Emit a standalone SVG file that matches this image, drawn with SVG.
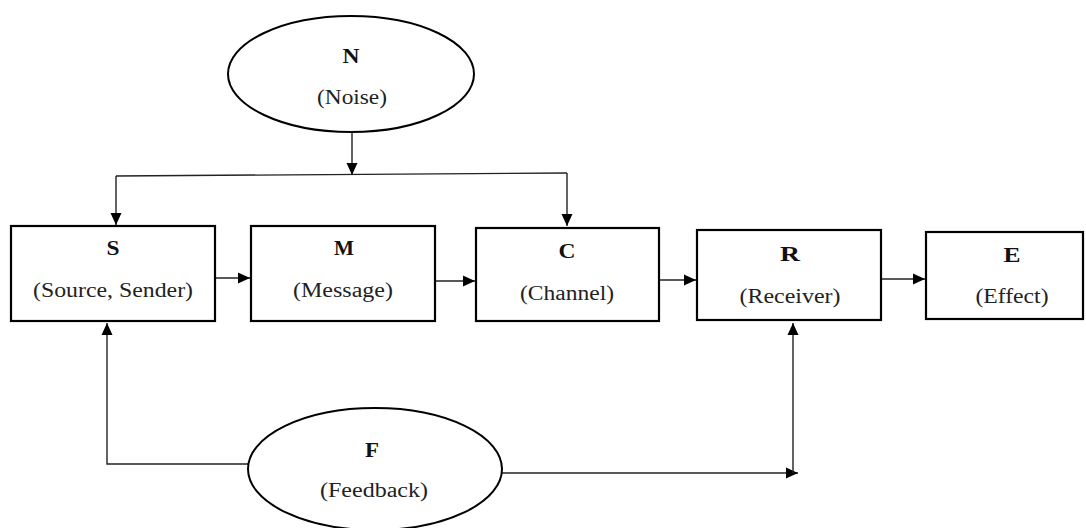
<svg xmlns="http://www.w3.org/2000/svg" width="1086" height="528" viewBox="0 0 1086 528">
  <style>
    .box { fill: #fff; stroke: #000; stroke-width: 2.2; }
    .oval { fill: #fff; stroke: #000; stroke-width: 2; }
    .wire { fill: none; stroke: #222; stroke-width: 1.4; }
    text { font-family: 'Liberation Serif', 'DejaVu Serif', serif; text-anchor: middle; }
    .key { font-weight: bold; font-size: 20px; fill: #111; }
    .sub { font-size: 20px; fill: #222; }
  </style>
  <defs>
    <marker id="head" viewBox="0 0 12 12" refX="12" refY="6" markerWidth="12" markerHeight="12" markerUnits="userSpaceOnUse" orient="auto">
      <path d="M0,0.5 L12,6 L0,11.5 Z" fill="#000"/>
    </marker>
  </defs>
  <rect width="1086" height="528" fill="#fff"/>

  <!-- connectors -->
  <g id="connectors">
    <line class="wire" x1="352" y1="132" x2="352" y2="175" marker-end="url(#head)"/>
    <line class="wire" x1="116" y1="176" x2="567" y2="173"/>
    <line class="wire" x1="116" y1="176" x2="116" y2="225" marker-end="url(#head)"/>
    <line class="wire" x1="567" y1="173" x2="567" y2="226" marker-end="url(#head)"/>
    <line class="wire" x1="215" y1="278" x2="250" y2="278" marker-end="url(#head)"/>
    <line class="wire" x1="435" y1="281" x2="475" y2="281" marker-end="url(#head)"/>
    <line class="wire" x1="659" y1="280" x2="696" y2="280" marker-end="url(#head)"/>
    <line class="wire" x1="881" y1="279" x2="925" y2="279" marker-end="url(#head)"/>
    <polyline class="wire" points="248,464 107,464 107,323" marker-end="url(#head)"/>
    <line class="wire" x1="502" y1="473" x2="798" y2="473" marker-end="url(#head)"/>
    <line class="wire" x1="793" y1="473" x2="793" y2="323" marker-end="url(#head)"/>
  </g>

  <!-- noise source -->
  <g id="noise">
    <ellipse class="oval" cx="351" cy="74" rx="123" ry="58"/>
    <text class="key" x="351" y="63" textLength="17" lengthAdjust="spacingAndGlyphs">N</text>
    <text class="sub" x="352" y="104" textLength="70" lengthAdjust="spacingAndGlyphs">(Noise)</text>
  </g>

  <g id="source">
    <rect class="box" x="11" y="226" width="204" height="95"/>
    <text class="key" x="113" y="255" textLength="13" lengthAdjust="spacingAndGlyphs">S</text>
    <text class="sub" x="113" y="297" textLength="160" lengthAdjust="spacingAndGlyphs">(Source, Sender)</text>
  </g>

  <g id="message">
    <rect class="box" x="251" y="226" width="184" height="95"/>
    <text class="key" x="344" y="255" textLength="20" lengthAdjust="spacingAndGlyphs">M</text>
    <text class="sub" x="343" y="297" textLength="100" lengthAdjust="spacingAndGlyphs">(Message)</text>
  </g>

  <g id="channel">
    <rect class="box" x="476" y="228" width="183" height="93"/>
    <text class="key" x="567" y="258" textLength="17" lengthAdjust="spacingAndGlyphs">C</text>
    <text class="sub" x="567" y="300" textLength="94" lengthAdjust="spacingAndGlyphs">(Channel)</text>
  </g>

  <g id="receiver">
    <rect class="box" x="697" y="230" width="184" height="90"/>
    <text class="key" x="790" y="261" textLength="20" lengthAdjust="spacingAndGlyphs">R</text>
    <text class="sub" x="790" y="303" textLength="101" lengthAdjust="spacingAndGlyphs">(Receiver)</text>
  </g>

  <g id="effect">
    <rect class="box" x="926" y="232" width="157" height="87"/>
    <text class="key" x="1012" y="262" textLength="17" lengthAdjust="spacingAndGlyphs">E</text>
    <text class="sub" x="1012" y="303" textLength="73" lengthAdjust="spacingAndGlyphs">(Effect)</text>
  </g>

  <g id="feedback">
    <ellipse class="oval" cx="375" cy="469" rx="127" ry="61"/>
    <text class="key" x="372" y="457" textLength="14" lengthAdjust="spacingAndGlyphs">F</text>
    <text class="sub" x="374" y="497" textLength="108" lengthAdjust="spacingAndGlyphs">(Feedback)</text>
  </g>
</svg>
